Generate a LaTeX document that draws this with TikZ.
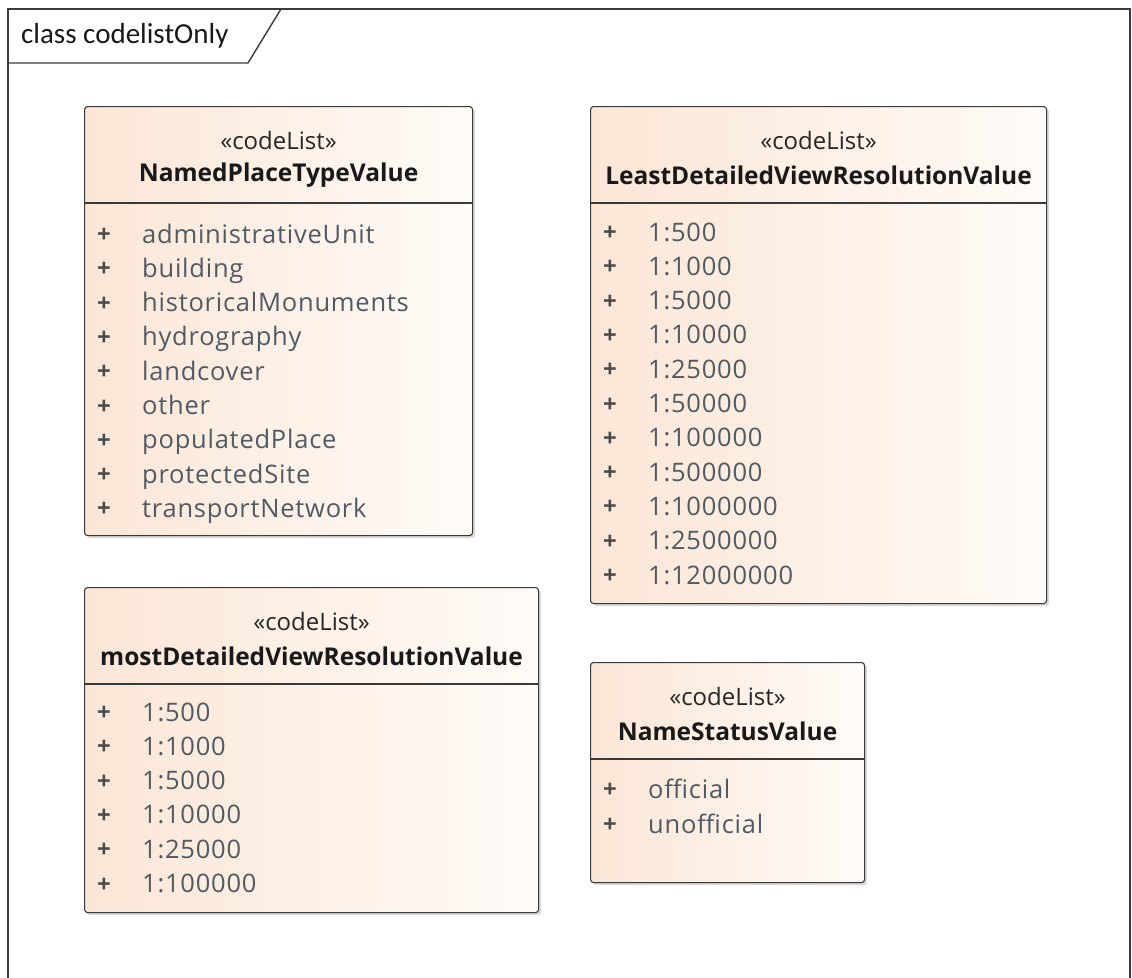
\documentclass[tikz,border=0pt]{standalone}
\usepackage{fontspec}
\setmainfont{Open Sans}
\newfontfamily\titlefont{Carlito}
\newfontfamily\attrfont[LetterSpace=3]{Open Sans}
\usetikzlibrary{shadows}
\definecolor{peach}{HTML}{FBE6D6}
\definecolor{peachlight}{HTML}{FFFBF8}
\definecolor{edge}{HTML}{3A3A3A}
\definecolor{attr}{HTML}{505A62}
\definecolor{plus}{HTML}{4A4A4A}
\tikzset{
  umlbox/.style={draw=edge, line width=1.1pt, rounded corners=3pt, left color=peach, right color=peachlight,
    drop shadow={shadow xshift=2.5pt, shadow yshift=-2.5pt, fill=black!25, opacity=0.6},
    anchor=north west, inner sep=0pt},
  stereo/.style={font=\fontsize{24}{28}\selectfont, text=black!85, inner sep=0pt},
  cname/.style={font=\fontsize{24.5}{28}\selectfont\bfseries, text=black!90, inner sep=0pt},
  plussign/.style={font=\fontsize{24}{28}\selectfont\bfseries, text=plus, inner sep=0pt, anchor=center,
    text height=17pt, text depth=6pt},
  attrtext/.style={font=\attrfont\fontsize{25.5}{30}\selectfont, text=attr, inner sep=0pt, anchor=west,
    text height=18pt, text depth=6pt},
  sepline/.style={draw=edge, line width=1.1pt},
}
\newcommand{\umlrows}[4]{% box name, first y, step, list
  \foreach \t [count=\i from 0] in {#4} {
    \path (#1.north west) ++(20, {#2+\i*#3}) node[plussign] (#1p\i) {+};
    \path (#1.north west) ++(58, {#2+\i*#3}) node[attrtext] (#1a\i) {\t};
  }
}
\begin{document}
\begin{tikzpicture}[x=1pt, y=-1pt]
\useasboundingbox[fill=white] (0,0) rectangle (1132,977);
% frame
\coordinate (fbl) at (8,980);
\coordinate (ftl) at (8,9);
\coordinate (ftr) at (1130,9);
\coordinate (fbr) at (1130,980);
\draw[edge, line width=1.4pt] (fbl) -- (ftl) -- (ftr) -- (fbr);
\coordinate (tabr) at (281,9);
\coordinate (tabb) at (248,63);
\coordinate (tabl) at (8,63);
\draw[edge, line width=1.4pt] (tabr) -- (tabb) -- (tabl);
\node[font=\titlefont\fontsize{29}{34}\selectfont, text=black!90, anchor=west, inner sep=0pt] (title) at (21,36) {class codelistOnly};

% Box 1
\node[umlbox, minimum width=388pt, minimum height=429pt] (b1) at (84,106) {};
\node[stereo] (b1s) at ([yshift=-34pt]b1.north) {«codeList»};
\node[cname] (b1n) at ([yshift=-69pt]b1.north) {NamedPlaceTypeValue};
\draw[sepline] ([yshift=-97pt]b1.north west) -- ([yshift=-97pt]b1.north east);
\umlrows{b1}{131}{34.3}{administrativeUnit,building,historicalMonuments,hydrography,landcover,other,populatedPlace,protectedSite,transportNetwork}

% Box 2
\node[umlbox, minimum width=456pt, minimum height=497pt] (b2) at (590,106) {};
\node[stereo] (b2s) at ([yshift=-34pt]b2.north) {«codeList»};
\node[cname] (b2n) at ([yshift=-69pt]b2.north) {LeastDetailedViewResolutionValue};
\draw[sepline] ([yshift=-97pt]b2.north west) -- ([yshift=-97pt]b2.north east);
\umlrows{b2}{129}{34.3}{1:500,1:1000,1:5000,1:10000,1:25000,1:50000,1:100000,1:500000,1:1000000,1:2500000,1:12000000}

% Box 3
\node[umlbox, minimum width=454pt, minimum height=325pt] (b3) at (84,587) {};
\node[stereo] (b3s) at ([yshift=-34pt]b3.north) {«codeList»};
\node[cname] (b3n) at ([yshift=-69pt]b3.north) {mostDetailedViewResolutionValue};
\draw[sepline] ([yshift=-97pt]b3.north west) -- ([yshift=-97pt]b3.north east);
\umlrows{b3}{128}{34.3}{1:500,1:1000,1:5000,1:10000,1:25000,1:100000}

% Box 4
\node[umlbox, minimum width=274pt, minimum height=220pt] (b4) at (590,662) {};
\node[stereo] (b4s) at ([yshift=-34pt]b4.north) {«codeList»};
\node[cname] (b4n) at ([yshift=-69pt]b4.north) {NameStatusValue};
\draw[sepline] ([yshift=-97pt]b4.north west) -- ([yshift=-97pt]b4.north east);
\umlrows{b4}{130}{35}{official,unofficial}
\end{tikzpicture}
\end{document}
